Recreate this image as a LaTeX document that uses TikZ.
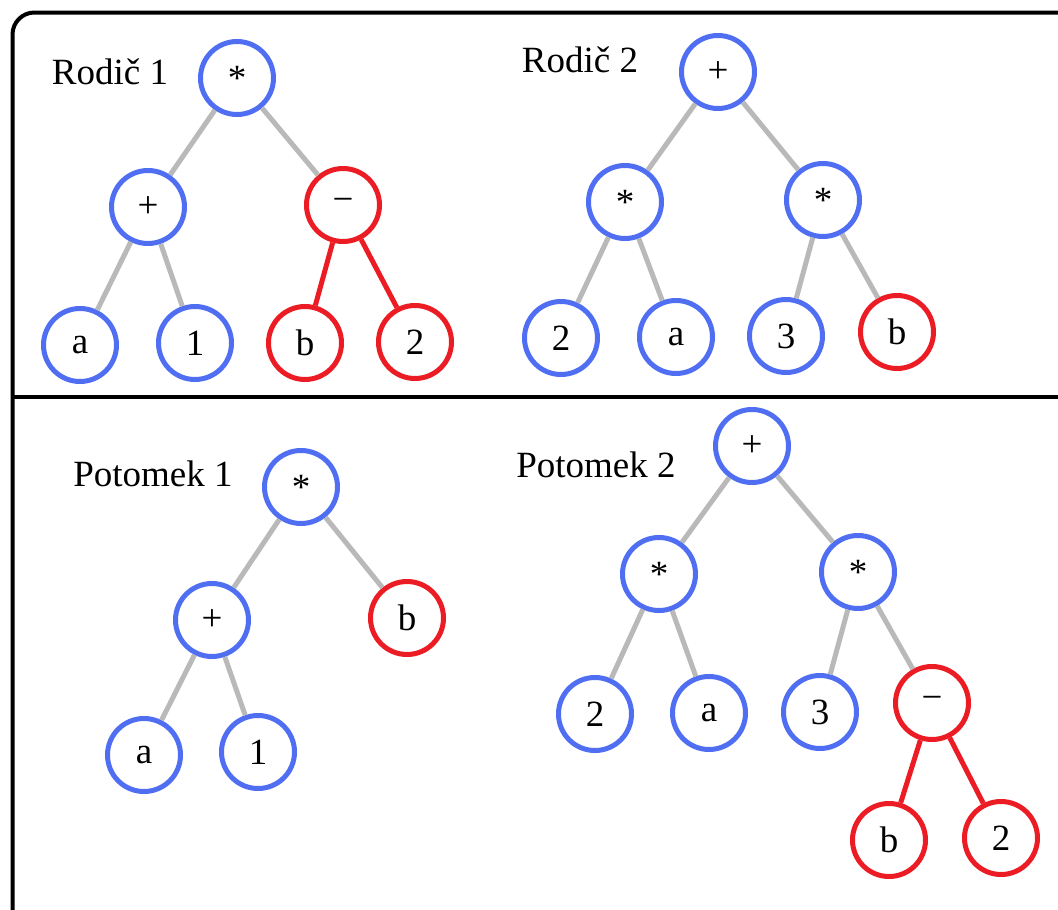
\documentclass[tikz,border=0pt]{standalone}
\usepackage{fontspec}
\setmainfont{Liberation Serif}
\definecolor{nblue}{RGB}{80,110,242}
\definecolor{nred}{RGB}{236,28,36}
\definecolor{egray}{RGB}{185,185,185}
\tikzset{
  bn/.style={circle,draw=nblue,line width=5pt,minimum size=73pt,inner sep=0pt,font=\fontsize{37}{40}\selectfont},
  rn/.style={bn,draw=nred},
  ge/.style={draw=egray,line width=5pt},
  re/.style={draw=nred,line width=5pt},
  lbl/.style={font=\fontsize{37}{40}\selectfont,inner sep=0pt},
  frame/.style={draw=black,line width=4pt}
}
\begin{document}
\begin{tikzpicture}[x=1pt,y=-1pt]
\useasboundingbox (0,0) rectangle (1058,910);
\begin{scope}
\clip (0,0) rectangle (1058,910);
\draw[frame,rounded corners=22pt] (12.5,12.5) rectangle (1080,935);
\draw[frame] (12.5,396.5) -- (1058,396.5);
\end{scope}
% Rodic 1
\node[lbl] (l1) at (110,72) {Rodič 1};
\node[bn] (r1a) at (237,78) {*};
\node[bn] (r1b) at (148,207) {+};
\node[rn] (r1c) at (343,205) {−};
\node[bn] (r1d) at (80,345) {a};
\node[bn] (r1e) at (195,343) {1};
\node[rn] (r1f) at (305,343) {b};
\node[rn] (r1g) at (415,342) {2};
\draw[ge] (r1a) -- (r1b);
\draw[ge] (r1a) -- (r1c);
\draw[ge] (r1b) -- (r1d);
\draw[ge] (r1b) -- (r1e);
\draw[re] (r1c) -- (r1f);
\draw[re] (r1c) -- (r1g);
% Rodic 2
\node[lbl] (l2) at (580,60) {Rodič 2};
\node[bn] (r2a) at (718,72) {+};
\node[bn] (r2b) at (625,202) {*};
\node[bn] (r2c) at (823,200) {*};
\node[bn] (r2d) at (561,338) {2};
\node[bn] (r2e) at (676,337) {a};
\node[bn] (r2f) at (786,336) {3};
\node[rn] (r2g) at (897,332) {b};
\draw[ge] (r2a) -- (r2b);
\draw[ge] (r2a) -- (r2c);
\draw[ge] (r2b) -- (r2d);
\draw[ge] (r2b) -- (r2e);
\draw[ge] (r2c) -- (r2f);
\draw[ge] (r2c) -- (r2g);
% Potomek 1
\node[lbl] (l3) at (153,474) {Potomek 1};
\node[bn] (p1a) at (301,487) {*};
\node[bn] (p1b) at (212,620) {+};
\node[rn] (p1c) at (407,618) {b};
\node[bn] (p1d) at (144,755) {a};
\node[bn] (p1e) at (258,752) {1};
\draw[ge] (p1a) -- (p1b);
\draw[ge] (p1a) -- (p1c);
\draw[ge] (p1b) -- (p1d);
\draw[ge] (p1b) -- (p1e);
% Potomek 2
\node[lbl] (l4) at (596,465) {Potomek 2};
\node[bn] (p2a) at (752,446) {+};
\node[bn] (p2b) at (659,574) {*};
\node[bn] (p2c) at (858,572) {*};
\node[bn] (p2d) at (595,714) {2};
\node[bn] (p2e) at (709,713) {a};
\node[bn] (p2f) at (820,712) {3};
\node[rn] (p2g) at (932,703) {−};
\node[rn] (p2h) at (889,840) {b};
\node[rn] (p2i) at (1001,838) {2};
\draw[ge] (p2a) -- (p2b);
\draw[ge] (p2a) -- (p2c);
\draw[ge] (p2b) -- (p2d);
\draw[ge] (p2b) -- (p2e);
\draw[ge] (p2c) -- (p2f);
\draw[ge] (p2c) -- (p2g);
\draw[re] (p2g) -- (p2h);
\draw[re] (p2g) -- (p2i);
\end{tikzpicture}
\end{document}
